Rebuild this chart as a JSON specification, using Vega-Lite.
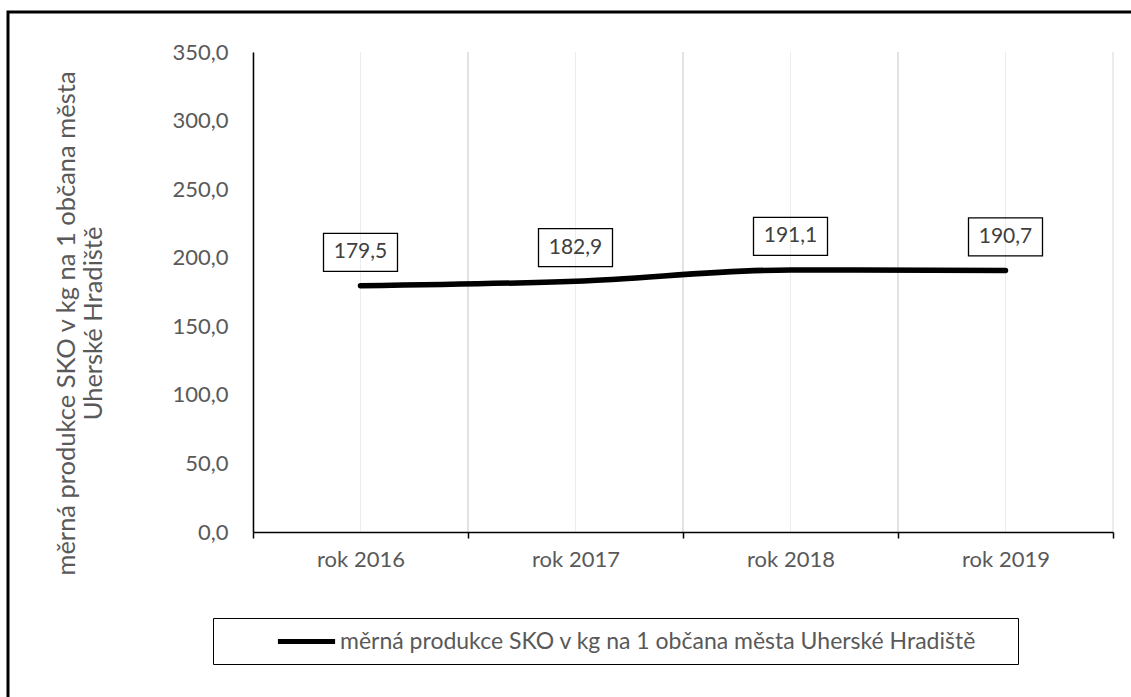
{
  "$schema": "https://vega.github.io/schema/vega-lite/v6.json",
  "width": 1140,
  "height": 700,
  "autosize": "none",
  "padding": {"left": 8, "top": 12, "right": 0, "bottom": 0},
  "background": "white",
  "config": {
    "locale": {"number": {"decimal": ",", "thousands": " ", "grouping": [3], "currency": ["", " Kč"]}},
    "view": {"stroke": "black", "strokeWidth": 3},
    "font": "Lato"
  },
  "data": {
    "values": [
      {"rok": "rok 2016", "v": 179.5},
      {"rok": "rok 2017", "v": 182.9},
      {"rok": "rok 2018", "v": 191.1},
      {"rok": "rok 2019", "v": 190.7}
    ]
  },
  "encoding": {
    "x": {
      "field": "rok",
      "type": "nominal",
      "sort": null,
      "scale": {"range": [245, 1105], "paddingInner": 0, "paddingOuter": 0},
      "axis": {
        "title": null,
        "tickBand": "extent",
        "offset": -180,
        "labelAngle": 0,
        "domainColor": "black",
        "domainWidth": 1.5,
        "tickColor": "black",
        "tickWidth": 1.5,
        "tickSize": 6,
        "labelColor": "#595959",
        "labelFontSize": 22,
        "labelPadding": 11,
        "grid": false,
        "zindex": 1
      }
    }
  },
  "layer": [
    {
      "mark": {"type": "rule", "color": "#ececec", "strokeWidth": 1},
      "encoding": {
        "y": {"datum": 0, "type": "quantitative"},
        "y2": {"datum": 350}
      }
    },
    {
      "mark": {"type": "rule", "color": "#d9d9d9", "strokeWidth": 1},
      "encoding": {
        "x": {"field": "rok", "type": "nominal", "sort": null, "bandPosition": 0},
        "y": {"datum": 0, "type": "quantitative"},
        "y2": {"datum": 350}
      }
    },
    {
      "mark": {"type": "rule", "color": "#d9d9d9", "strokeWidth": 1},
      "encoding": {
        "x": {"field": "rok", "type": "nominal", "sort": null, "bandPosition": 1},
        "y": {"datum": 0, "type": "quantitative"},
        "y2": {"datum": 350}
      }
    },
    {
      "mark": {"type": "line", "interpolate": "monotone", "strokeWidth": 5.5, "strokeCap": "round"},
      "encoding": {
        "y": {
          "field": "v",
          "type": "quantitative",
          "scale": {"domain": [0, 350], "range": [520, 40], "nice": false, "zero": true},
          "axis": {
            "title": ["měrná produkce SKO v kg na 1 občana města", "Uherské Hradiště"],
            "offset": -245,
            "values": [0, 50, 100, 150, 200, 250, 300, 350],
            "format": ".1f",
            "ticks": false,
            "domainColor": "black",
            "domainWidth": 1.5,
            "gridColor": "#d9d9d9",
            "labelColor": "#595959",
            "labelFontSize": 22,
            "labelPadding": 25,
            "titleColor": "#595959",
            "titleFontSize": 25.5,
            "titleFontWeight": "normal",
            "titleLineHeight": 27,
            "titleBaseline": "middle",
            "titleX": -187,
            "titleY": 311,
            "zindex": 1
          }
        },
        "stroke": {
          "datum": "měrná produkce SKO v kg na 1 občana města Uherské Hradiště",
          "type": "nominal",
          "scale": {"range": ["black"]},
          "legend": {
            "orient": "none",
            "legendX": 205,
            "legendY": 606,
            "title": " ",
            "titleOrient": "right",
            "titlePadding": 32,
            "symbolType": "M-2.6,0H2.6",
            "symbolSize": 484,
            "symbolStrokeWidth": 5,
            "symbolStrokeColor": "black",
            "symbolFillColor": "transparent",
            "strokeColor": "black",
            "fillColor": "white",
            "padding": 10,
            "symbolOffset": 70,
            "labelFontSize": 23,
            "labelColor": "#595959",
            "labelOffset": 20,
            "labelLimit": 0
          }
        }
      }
    },
    {
      "mark": {
        "type": "point",
        "shape": "M-1,-0.5135H1V0.5135H-1Z",
        "filled": false,
        "stroke": "black",
        "strokeWidth": 1.3,
        "size": 5476,
        "opacity": 1,
        "yOffset": -33.5
      },
      "encoding": {
        "y": {"field": "v", "type": "quantitative"}
      }
    },
    {
      "mark": {"type": "text", "fontSize": 21, "color": "#404040", "baseline": "middle", "yOffset": -33.5},
      "encoding": {
        "y": {"field": "v", "type": "quantitative"},
        "text": {"field": "v", "type": "quantitative", "format": ".1f"}
      }
    }
  ]
}
